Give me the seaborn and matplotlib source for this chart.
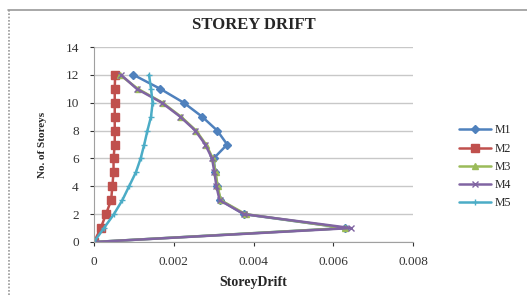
import pandas as pd
import numpy as np
import seaborn as sns
import matplotlib.pyplot as plt
from matplotlib.lines import Line2D

storeys = list(range(12, -1, -1))

m1 = [0.00099, 0.00166, 0.00225, 0.00271, 0.00309, 0.00334, 0.00300,
      0.00304, 0.00309, 0.00317, 0.00376, 0.00630, 0.0]
m2 = [0.00053, 0.00052, 0.00052, 0.00052, 0.00052, 0.00052, 0.00049,
      0.00049, 0.00046, 0.00043, 0.00030, 0.00017, 0.0]
m3 = [0.00065, 0.00110, 0.00172, 0.00218, 0.00256, 0.00281, 0.00298,
      0.00305, 0.00310, 0.00318, 0.00380, 0.00630, 0.0]
m4 = [0.00068, 0.00107, 0.00170, 0.00216, 0.00254, 0.00279, 0.00296,
      0.00302, 0.00307, 0.00315, 0.00376, 0.00645, 0.0]
m5 = [0.00138, 0.00143, 0.00147, 0.00143, 0.00134, 0.00126, 0.00117,
      0.00105, 0.00088, 0.00071, 0.00050, 0.00025, 0.0]

series = {"M1": m1, "M2": m2, "M3": m3, "M4": m4, "M5": m5}
records = []
for name, vals in series.items():
    records.extend([(name, s, v) for s, v in zip(storeys, vals)])
df = pd.DataFrame(records, columns=["model", "storey", "drift"])

colors = {"M1": "#4F81BD", "M2": "#C0504D", "M3": "#9BBB59",
          "M4": "#8064A2", "M5": "#4BACC6"}
markers = {"M1": "D", "M2": "s", "M3": "^", "M4": "x", "M5": "+"}
msizes = {"M1": 4.5, "M2": 6, "M3": 4.5, "M4": 4.5, "M5": 4.5}

sns.set_style("white")
plt.rcParams["font.family"] = ["Liberation Serif", "DejaVu Serif"]

fig = plt.figure(figsize=(5.27, 2.95), dpi=100)
ax = fig.add_axes([94 / 527, 1 - 242 / 295, (413 - 94) / 527, (242 - 47) / 295])

for name in series:
    sub = df[df["model"] == name]
    sns.lineplot(data=sub, x="drift", y="storey", sort=False, estimator=None,
                 color=colors[name], marker=markers[name],
                 markersize=msizes[name], markeredgewidth=1.0,
                 markeredgecolor=colors[name], linewidth=1.8,
                 label=name, ax=ax)

ax.set_xlim(0, 0.008)
ax.set_ylim(0, 14)
ax.set_xticks([0, 0.002, 0.004, 0.006, 0.008])
ax.set_xticklabels(["0", "0.002", "0.004", "0.006", "0.008"])
ax.set_yticks(range(0, 15, 2))
ax.tick_params(labelsize=9.5, length=3, direction="out", left=True,
               bottom=True, colors="#333333")
ax.tick_params(axis="x", pad=7)
ax.tick_params(axis="y", pad=8)
ax.yaxis.grid(True, color="#c8c8c8", linewidth=1)
ax.set_axisbelow(True)
for side in ["top", "right"]:
    ax.spines[side].set_visible(False)
for side in ["left", "bottom"]:
    ax.spines[side].set_color("#a0a0a0")

ax.set_title("STOREY DRIFT", fontsize=12, fontweight="bold", y=1.0, pad=13)
ax.set_xlabel("StoreyDrift", fontsize=10, fontweight="bold", labelpad=6)
ax.set_ylabel("No. of Storeys", fontsize=8, fontweight="bold", labelpad=13)

leg = ax.legend(loc="center left", bbox_to_anchor=(1.11, 0.385),
                frameon=False, fontsize=8.5, handlelength=2.7,
                handletextpad=0.3, labelspacing=0.53)

fig.add_artist(Line2D([8 / 527, 1], [1 - 9.5 / 295] * 2,
                      transform=fig.transFigure, color="#999999", linewidth=1.2))
fig.add_artist(Line2D([8.5 / 527] * 2, [0, 1 - 9.5 / 295],
                      transform=fig.transFigure, color="#999999",
                      linewidth=1.2, linestyle=(0, (1, 1))))

fig.savefig("out.png", dpi=100)
